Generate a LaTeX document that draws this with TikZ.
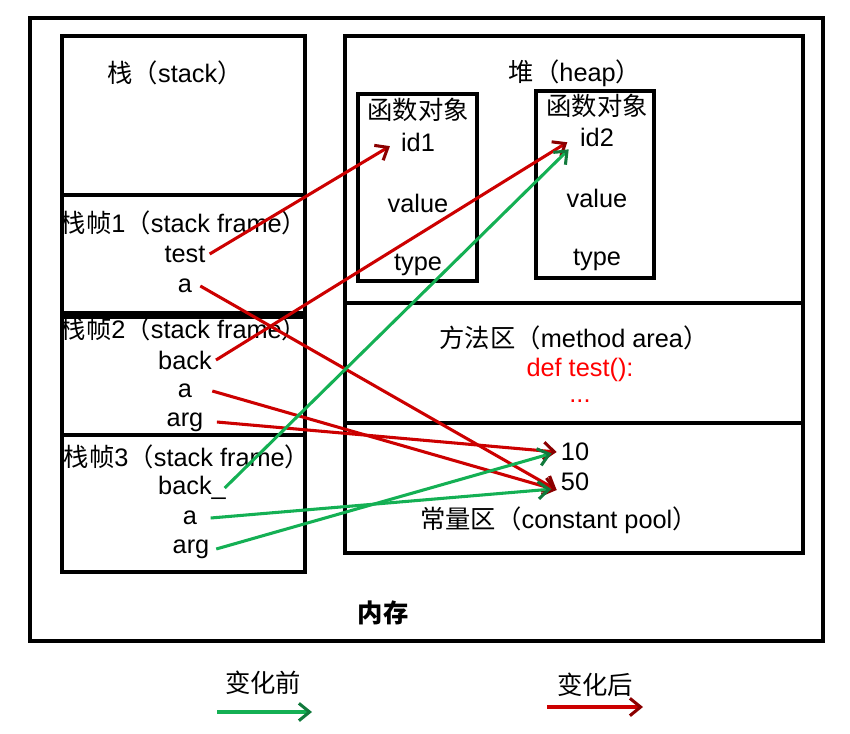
\documentclass[tikz,border=0pt]{standalone}
\usepackage{fontspec}
\setmainfont{Liberation Sans}
\newfontfamily\cjk{Noto Sans CJK SC}
\usetikzlibrary{positioning, calc, arrows.meta}
\newcommand{\zh}[1]{{\cjk #1}}
\tikzset{
    Box/.style = {draw, line width=2.3pt},
    Txt/.style = {inner sep=3pt, font=\fontsize{19}{22}\selectfont},
    Arrow/.style 2 args = {
        line width=2.3pt, color=#1,
        -{Straight Barb[length=8pt, width=13pt, color=#2]}
    },
    After/.style = {Arrow={aRed}{aRedTip}},
    Before/.style = {Arrow={bGreen}{bGreenTip}}
}
\definecolor{aRed}{HTML}{CC0000}
\definecolor{aRedTip}{HTML}{8B0000}
\definecolor{bGreen}{HTML}{14B054}
\definecolor{bGreenTip}{HTML}{117A3C}
\definecolor{codeRed}{HTML}{FF0000}

\begin{document}
\begin{tikzpicture}[x=0.75pt, y=-0.75pt]
    \useasboundingbox (0,0) rectangle (850,733);
    \draw [Box] (30,18) rectangle (823,641);
    \draw [Box] (62,36) rectangle (305,195);
    \draw [Box] (62,195) rectangle (305,313);
    \draw [Box] (62,317) rectangle (305,435);
    \draw [Box] (62,435) rectangle (305,572);
    \draw [Box] (345,36) rectangle (803,303);
    \draw [Box] (345,303) rectangle (803,423);
    \draw [Box] (345,423) rectangle (803,553);
    \draw [Box] (358,94) rectangle (477,281);
    \draw [Box] (536,91) rectangle (654,278);

    \node [Txt] (stack) at (175,73) {\zh{栈（}stack\zh{）}};
    \node [Txt] (frame1) at (184,223) {\zh{栈帧}1\zh{（}stack frame\zh{）}};
    \node [Txt] (test) at (185,254) {test};
    \node [Txt] (a1) at (185,286) {a};
    \node [Txt] (frame2) at (184,329) {\zh{栈帧}2\zh{（}stack frame\zh{）}};
    \node [Txt] (back2) at (185,360) {back};
    \node [Txt] (a2) at (185,391) {a};
    \node [Txt] (arg2) at (185,422) {arg};
    \node [Txt] (frame3) at (187,457) {\zh{栈帧}3\zh{（}stack frame\zh{）}};
    \node [Txt] (back3) at (192,488) {back\_};
    \node [Txt] (a3) at (190,518) {a};
    \node [Txt] (arg3) at (191,549) {arg};

    \node [Txt] (heap) at (575,73) {\zh{堆（}heap\zh{）}};
    \node [Txt] (obj1) at (418,110) {\zh{函数对象}};
    \node [Txt] (id1) at (418,142) {id1};
    \node [Txt] (value1) at (418,203) {value};
    \node [Txt] (type1) at (418,265) {type};
    \node [Txt] (obj2) at (597,106) {\zh{函数对象}};
    \node [Txt] (id2) at (597,137) {id2};
    \node [Txt] (value2) at (597,198) {value};
    \node [Txt] (type2) at (597,260) {type};

    \node [Txt] (method) at (574,338) {\zh{方法区（}method area\zh{）}};
    \node [Txt, text=codeRed] (code) at (580,370) {def test():};
    \node [Txt, text=codeRed] (dots) at (580,401) {...};
    \node [Txt] (v10) at (575,452) {10};
    \node [Txt] (v50) at (575,482) {50};
    \node [Txt] (pool) at (559,520) {\zh{常量区（}constant pool\zh{）}};

    \node [Txt, font=\fontsize{19}{22}\selectfont\bfseries] (memory) at (383,613) {\zh{内存}};
    \node [Txt] (before) at (263,683) {\zh{变化前}};
    \node [Txt] (after) at (595,685) {\zh{变化后}};
    \coordinate (b0) at (217,712);
    \coordinate (b1) at (312,712);
    \coordinate (r0) at (547,707);
    \coordinate (r1) at (643,707);

    \draw [After, shorten >=6pt] (test.east) to (id1.west);
    \draw [After, shorten >=7.5pt] (back2.east) to (id2.west);
    \draw [After] ([xshift=3pt]a1.east) to ([yshift=-6pt]v50.west);
    \draw [After] ([xshift=12pt]a2.east) to ([yshift=-6pt]v50.west);
    \draw [After] ([xshift=7pt]arg2.east) to (v10.west);
    \draw [Before, shorten >=7.5pt] ([xshift=-4pt]back3.east) to ([yshift=-4pt]id2.west);
    \draw [Before, shorten >=4pt] ([xshift=7pt]a3.east) to ([yshift=-5pt]v50.west);
    \draw [Before, shorten >=4pt] ([xshift=2pt]arg3.east) to (v10.west);
    \draw [Before] (b0) to (b1);
    \draw [After] (r0) to (r1);
\end{tikzpicture}
\end{document}
